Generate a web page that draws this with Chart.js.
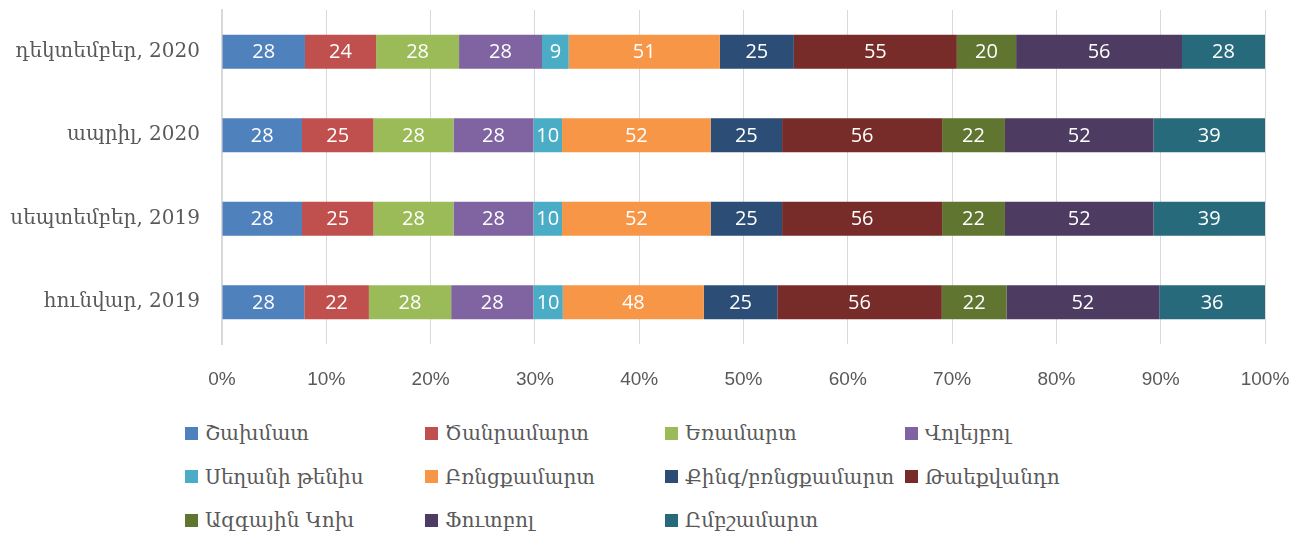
<!DOCTYPE html>
<html>
<head>
<meta charset="utf-8">
<script src="https://cdn.jsdelivr.net/npm/chart.js@4/dist/chart.umd.min.js"></script>
<style>
  body { margin: 0; background: #fff; }
  #wrap { position: relative; width: 1303px; height: 535px; }
  #chartBox { position: absolute; left: 0; top: 0; width: 1303px; height: 400px; }
  #legend { position: absolute; left: 185px; top: 418px; display: grid;
    grid-template-columns: 240px 240px 240px 240px; grid-auto-rows: 43.5px; }
  .item { display: flex; align-items: center; height: 30px; white-space: nowrap;
    font-family: "DejaVu Serif", serif; font-size: 20px; color: #595959; }
  .box { width: 13px; height: 13px; margin-right: 7px; flex: none; }
</style>
</head>
<body>
<div id="wrap">
  <div id="chartBox"><canvas id="chart"></canvas></div>
  <div id="legend"></div>
</div>
<script>
const categories = ['դեկտեմբեր, 2020', 'ապրիլ, 2020', 'սեպտեմբեր, 2019', 'հունվար, 2019'];
const seriesNames = ['Շախմատ', 'Ծանրամարտ', 'Եռամարտ', 'Վոլեյբոլ', 'Սեղանի թենիս', 'Բռնցքամարտ',
  'Քինգ/բռնցքամարտ', 'Թաեքվանդո', 'Ազգային Կոխ', 'Ֆուտբոլ', 'Ըմբշամարտ'];
const seriesColors = ['#4F81BD', '#C0504D', '#9BBB59', '#8064A2', '#4BACC6', '#F79646',
  '#2C4D75', '#772C2A', '#5F7530', '#4D3B62', '#276A7C'];
// values per series, in category order (dec 2020, apr 2020, sep 2019, jan 2019)
const chess = [28, 28, 28, 28];
const weightlifting = [24, 25, 25, 22];
const triathlon = [28, 28, 28, 28];
const volleyball = [28, 28, 28, 28];
const tableTennis = [9, 10, 10, 10];
const boxing = [51, 52, 52, 48];
const kickboxing = [25, 25, 25, 25];
const taekwondo = [55, 56, 56, 56];
const nationalWrestling = [20, 22, 22, 22];
const football = [56, 52, 52, 52];
const wrestling = [28, 39, 39, 36];
const seriesValues = [chess, weightlifting, triathlon, volleyball, tableTennis, boxing,
  kickboxing, taekwondo, nationalWrestling, football, wrestling];
const xTicks = ['0%', '10%', '20%', '30%', '40%', '50%', '60%', '70%', '80%', '90%', '100%'];

const totals = categories.map((c, i) => seriesValues.reduce((s, arr) => s + arr[i], 0));

const datasets = seriesNames.map((name, k) => ({
  label: name,
  data: seriesValues[k].map((v, i) => v / totals[i] * 100),
  raw: seriesValues[k],
  backgroundColor: seriesColors[k],
  borderWidth: 0,
  barPercentage: 0.41,
  categoryPercentage: 1
}));

const valueLabels = {
  id: 'valueLabels',
  afterDatasetsDraw(chart) {
    const ctx = chart.ctx;
    ctx.save();
    ctx.fillStyle = '#fff';
    ctx.font = '20px "Open Sans", sans-serif';
    ctx.textAlign = 'center';
    ctx.textBaseline = 'middle';
    chart.data.datasets.forEach((ds, k) => {
      chart.getDatasetMeta(k).data.forEach((bar, i) => {
        const x = (bar.x + bar.base) / 2;
        ctx.fillText(String(ds.raw[i]), x, bar.y + 1);
      });
    });
    ctx.restore();
  }
};

new Chart(document.getElementById('chart'), {
  type: 'bar',
  data: { labels: categories, datasets: datasets },
  options: {
    indexAxis: 'y',
    responsive: true,
    maintainAspectRatio: false,
    animation: false,
    layout: { padding: { top: 10, right: 38, left: 0, bottom: 0 } },
    plugins: { legend: { display: false }, tooltip: { enabled: false } },
    scales: {
      x: {
        stacked: true, min: 0, max: 100,
        afterFit: (s) => { s.height = 56; s.paddingLeft = 0; s.paddingRight = 0; },
        ticks: {
          stepSize: 10, padding: 24, color: '#595959',
          font: { family: '"Liberation Sans Narrow", "Liberation Sans", sans-serif', size: 19 },
          callback: (v, i) => xTicks[i]
        },
        grid: { color: '#D9D9D9', lineWidth: 1, drawTicks: false },
        border: { display: false }
      },
      y: {
        stacked: true,
        afterFit: (s) => { s.width = 222; s.paddingTop = 0; s.paddingBottom = 0; },
        ticks: {
          padding: 22, color: '#595959',
          font: { family: '"DejaVu Serif", serif', size: 20 }
        },
        grid: { display: false, drawTicks: false },
        border: { display: true, color: '#D9D9D9', width: 2 }
      }
    }
  },
  plugins: [valueLabels]
});

const legend = document.getElementById('legend');
seriesNames.forEach((name, k) => {
  const item = document.createElement('div');
  item.className = 'item';
  const box = document.createElement('span');
  box.className = 'box';
  box.style.background = seriesColors[k];
  const text = document.createElement('span');
  text.textContent = name;
  item.appendChild(box);
  item.appendChild(text);
  legend.appendChild(item);
});
</script>
</body>
</html>
